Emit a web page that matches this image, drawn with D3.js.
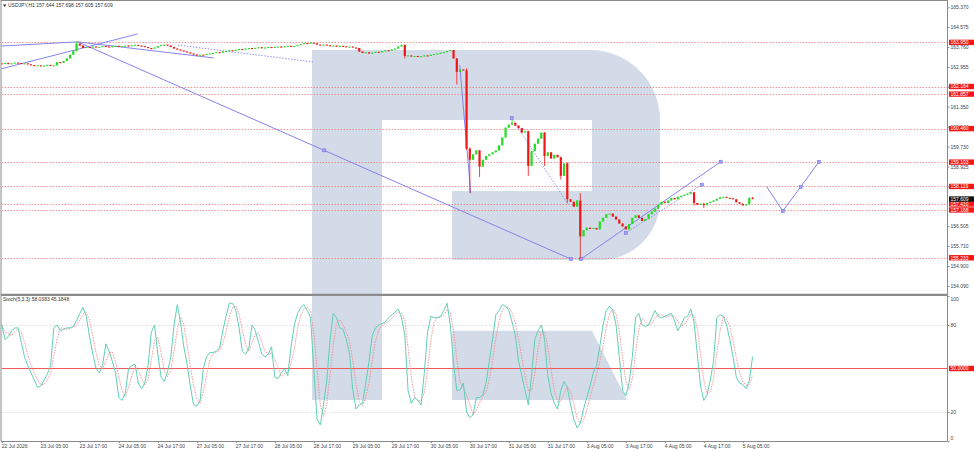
<!DOCTYPE html>
<html>
<head>
<meta charset="utf-8">
<style>
body { margin:0; background:#fff; }
svg { display:block; font-family:"Liberation Sans", Arial, sans-serif; }
</style>
<script src="https://cdn.jsdelivr.net/npm/d3@7"></script>
</head>
<body>
<div id="chart"></div>
<script>
var W = 974, H = 451;

// ---- data (USDJPY H1, 22 Jul 17:00 .. 5 Aug 07:00) ----
var symbol = "USDJPY,H1";
var lastOHLC = ["157.644", "157.698", "157.605", "157.609"];
var open0 = 163.10;
var closes = [
  163.08,163.12,163.07,163.10,163.13,163.11,163.08,163.10,163.06,163.03,
  163.00,163.02,162.98,163.01,163.04,163.00,163.02,163.15,163.12,163.20,
  163.30,163.45,163.60,163.90,163.82,163.72,163.76,163.74,163.78,163.75,
  163.77,163.80,163.78,163.76,163.79,163.81,163.78,163.80,163.82,163.79,
  163.83,163.85,163.82,163.80,163.76,163.72,163.70,163.74,163.80,163.84,
  163.86,163.82,163.76,163.70,163.66,163.62,163.58,163.54,163.50,163.46,
  163.42,163.45,163.44,163.48,163.50,163.52,163.55,163.53,163.58,163.60,
  163.63,163.61,163.65,163.68,163.66,163.70,163.72,163.69,163.73,163.75,
  163.72,163.74,163.76,163.73,163.77,163.78,163.75,163.79,163.81,163.78,
  163.80,163.84,163.88,163.92,163.90,163.94,163.91,163.86,163.84,163.86,
  163.83,163.80,163.82,163.78,163.81,163.79,163.76,163.78,163.74,163.72,
  163.58,163.52,163.55,163.50,163.53,163.57,163.55,163.60,163.63,163.61,
  163.66,163.70,163.78,163.85,163.40,163.42,163.38,163.40,163.36,163.39,
  163.42,163.40,163.45,163.48,163.50,163.53,163.56,163.60,163.64,163.30,
  162.76,162.85,162.82,159.65,159.20,159.42,159.58,158.92,159.20,159.35,
  159.42,159.50,159.58,159.78,160.10,160.50,160.62,160.70,160.58,160.48,
  160.30,160.35,158.95,159.55,159.85,160.05,160.30,159.35,159.50,159.25,
  159.40,159.30,158.55,159.05,157.60,157.50,157.30,157.55,156.10,156.35,
  156.45,156.40,156.44,156.38,156.70,156.85,157.00,157.02,156.90,156.78,
  156.62,156.50,156.38,156.60,156.85,156.95,156.85,156.72,156.80,157.00,
  157.10,157.22,157.38,157.50,157.45,157.55,157.65,157.60,157.70,157.74,
  157.78,157.82,157.88,157.45,157.38,157.42,157.36,157.45,157.50,157.55,
  157.62,157.68,157.70,157.66,157.64,157.60,157.48,157.42,157.35,157.40,
  157.644,157.609
];
// bars with visible wicks: index -> [high, low]
var wicks = {
  23:[163.98,163.58], 124:[163.86,163.30], 140:[163.32,162.25], 143:[162.90,159.60],
  144:[159.70,157.85], 147:[159.60,158.50], 157:[160.82,160.60], 162:[160.38,158.55],
  167:[160.32,158.95], 172:[159.32,158.40], 174:[159.10,157.45], 178:[157.85,155.20],
  213:[157.90,157.35], 216:[157.44,157.25], 230:[157.698,157.38], 231:[157.698,157.605]
};

// Stochastic %K per bar
var stochK = [
  80,70,72,76,78,78,68,58,52,47, 42,37,38,42,46,52,78,80,76,77,
  78,78,79,83,88,92,86,72,60,50, 47,52,67,62,55,47,30,28,33,50,
  52,53,40,36,40,52,75,80,60,44, 41,48,58,80,94,82,65,53,38,25,
  24,28,50,58,61,61,62,64,76,86, 95,95,90,78,62,60,64,80,76,68,
  60,58,60,65,44,43,47,50,45,65, 80,88,92,94,90,85,49,15,11,25,
  42,70,88,85,78,77,70,60,35,22, 25,26,40,55,73,78,80,81,82,85,
  87,89,91,85,73,35,26,30,28,25, 47,75,86,85,85,86,90,95,80,53,
  35,35,40,20,16,18,30,30,32,40, 55,70,87,90,94,93,90,82,73,55,
  45,35,25,45,70,76,80,70,45,33, 26,22,35,41,37,25,15,9,12,22,
  30,38,47,52,65,80,90,93,90,80, 58,35,31,40,58,85,88,80,79,80,
  85,90,86,85,86,87,88,83,76,80, 85,86,91,82,60,38,28,32,42,55,
  85,87,86,80,70,58,44,40,39,36, 41.5,58.04
];
var stochLabel = "Stoch(5,3,3) 58.0383 45.1848";

// horizontal levels and axis labels
var levels = [163.950, 162.164, 161.857, 160.460, 159.103, 158.119, 157.410, 157.168, 155.233];
var currentPrice = 157.609;
var priceTicks = [165.370, 164.575, 163.760, 162.955, 162.150, 161.350, 160.540, 159.730,
                  158.925, 158.120, 156.505, 155.710, 154.900, 154.090];
var stochTicks = [100, 80, 20, 0];
var stochLevels = [80, 20];
var timeTicks = [0,12,24,36,48,60,72,84,96,108,120,132,144,156,168,180,192,204,216,228];
var timeLabels = ["22 Jul 2026","23 Jul 05:00","23 Jul 17:00","24 Jul 05:00","24 Jul 17:00",
  "27 Jul 05:00","27 Jul 17:00","28 Jul 05:00","28 Jul 17:00","29 Jul 05:00","29 Jul 17:00",
  "30 Jul 05:00","30 Jul 17:00","31 Jul 05:00","31 Jul 17:00","3 Aug 05:00","3 Aug 17:00",
  "4 Aug 05:00","4 Aug 17:00","5 Aug 05:00"];

// analyst drawings: [bar index, price]
var trendSolid = [
  [[-0.5,163.80],[23.4,163.97]],
  [[-0.5,162.87],[41.8,164.29]],
  [[23.4,163.97],[175.1,155.18]],
  [[23.4,163.97],[65.2,163.32]],
  [[140.9,163.03],[144.3,157.85]],
  [[178.2,155.18],[221.2,159.12]]
];
var trendDotted = [
  [[54.2,163.84],[95.7,163.16]],
  [[156.9,160.89],[174.2,157.40]],
  [[192.0,156.24],[215.4,158.19]]
];
var forecast = [[235.4,158.10],[240.3,157.13],[245.8,158.10],[251.4,159.11]];
var markers = [[99.2,159.58],[175.1,155.18],[178.2,155.18],[221.2,159.12],[192.0,156.24],
               [215.4,158.19],[156.9,160.89],[240.3,157.13],[245.8,158.10],[251.4,159.11]];

// ---- layout ----
var axisX = 947.5, mainTop = 1, mainBot = 293.5, stTop = 296, stBot = 441;

var svg = d3.select("#chart").append("svg").attr("width", W).attr("height", H);
svg.append("rect").attr("width", W).attr("height", H).attr("fill", "#fff");

var x = d3.scaleLinear().domain([0, 231]).range([1.8, 1.8 + 231 * 3.25]);
var y = d3.scaleLinear().domain([154.09, 165.37]).range([286, 7.3]);
var ys = d3.scaleLinear().domain([0, 100]).range([stBot, stTop]);

var defs = svg.append("defs");
defs.append("clipPath").attr("id", "cm").append("rect")
  .attr("x", 1.5).attr("y", mainTop).attr("width", axisX - 1.5).attr("height", mainBot - mainTop);
defs.append("clipPath").attr("id", "cs").append("rect")
  .attr("x", 1.5).attr("y", stTop).attr("width", axisX - 1.5).attr("height", stBot - stTop);

// watermark logo
svg.append("path")
  .attr("d", "M312,50 H590 A70,70 0 0 1 660,120 V200 A60,60 0 0 1 600,260 H452 V191 H592 V120 H382 V400 H312 Z")
  .attr("fill", "#d2dbe7");
svg.append("path")
  .attr("d", "M452,330.7 H592 L627,400 H452 Z")
  .attr("fill", "#d2dbe7");

var main = svg.append("g").attr("clip-path", "url(#cm)");
var st = svg.append("g").attr("clip-path", "url(#cs)");

// price levels
main.selectAll(".lvl").data(levels).enter().append("line")
  .attr("x1", 1.5).attr("x2", axisX)
  .attr("y1", function(d){ return Math.round(y(d)) + 0.5; })
  .attr("y2", function(d){ return Math.round(y(d)) + 0.5; })
  .attr("stroke", "#f07a7a").attr("stroke-width", 0.8).attr("stroke-dasharray", "1.5,1.5");

// stoch levels
st.selectAll(".sl").data(stochLevels).enter().append("line")
  .attr("x1", 1.5).attr("x2", axisX)
  .attr("y1", function(d){ return Math.round(ys(d)) + 0.5; })
  .attr("y2", function(d){ return Math.round(ys(d)) + 0.5; })
  .attr("stroke", "#d6d6d6").attr("stroke-width", 0.8).attr("stroke-dasharray", "2,2");
st.append("line").attr("x1", 1.5).attr("x2", axisX)
  .attr("y1", ys(50)).attr("y2", ys(50))
  .attr("stroke", "#f05a5a").attr("stroke-width", 1);

// drawings
var pline = d3.line().x(function(p){ return x(p[0]); }).y(function(p){ return y(p[1]); });
main.selectAll(".ts").data(trendSolid).enter().append("path")
  .attr("d", pline).attr("fill", "none").attr("stroke", "#8484ee").attr("stroke-width", 1);
main.selectAll(".td").data(trendDotted).enter().append("path")
  .attr("d", pline).attr("fill", "none").attr("stroke", "#8484ee").attr("stroke-width", 0.9)
  .attr("stroke-dasharray", "1.5,1.5");
main.append("path").datum(forecast).attr("d", pline)
  .attr("fill", "none").attr("stroke", "#8484ee").attr("stroke-width", 1);
main.selectAll(".mk").data(markers).enter().append("rect")
  .attr("x", function(p){ return x(p[0]) - 1.5; })
  .attr("y", function(p){ return y(p[1]) - 1.5; })
  .attr("width", 3).attr("height", 3)
  .attr("fill", "#a0a0f4").attr("stroke", "#7878e8").attr("stroke-width", 0.6);

// candles
var bars = closes.map(function(c, i){
  var o = i === 0 ? open0 : closes[i - 1];
  var w = wicks[i];
  return { i: i, o: o, c: c,
           h: w ? w[0] : Math.max(o, c),
           l: w ? w[1] : Math.min(o, c) };
});
var up = "#22dd22", dn = "#f01616";
var cg = main.selectAll(".cd").data(bars).enter().append("g");
cg.append("line")
  .attr("x1", function(d){ return x(d.i); }).attr("x2", function(d){ return x(d.i); })
  .attr("y1", function(d){ return y(d.h); }).attr("y2", function(d){ return y(d.l); })
  .attr("stroke", function(d){ return d.c >= d.o ? up : dn; }).attr("stroke-width", 0.8);
cg.append("rect")
  .attr("x", function(d){ return x(d.i) - 1.1; })
  .attr("width", 2.2)
  .attr("y", function(d){ return y(Math.max(d.o, d.c)); })
  .attr("height", function(d){ return Math.max(1, Math.abs(y(d.o) - y(d.c))); })
  .attr("fill", function(d){ return d.c >= d.o ? up : dn; });

// stochastic: %K and %D (%D = 3-bar average of %K, as in Stoch 5,3,3)
var stochD = stochK.map(function(k, i){
  var s = stochK.slice(Math.max(0, i - 2), i + 1);
  return d3.mean(s);
});
var sline = d3.line().x(function(d, i){ return x(i); }).y(function(d){ return ys(d); });
st.append("path").datum(stochD).attr("d", sline)
  .attr("fill", "none").attr("stroke", "#f28a8a").attr("stroke-width", 0.9)
  .attr("stroke-dasharray", "1.5,1.2");
st.append("path").datum(stochK).attr("d", sline)
  .attr("fill", "none").attr("stroke", "#5fcfb6").attr("stroke-width", 1);

// frame
var frame = svg.append("g").attr("stroke", "#8a8a8a").attr("fill", "none");
frame.append("line").attr("x1", 1).attr("x2", 1).attr("y1", 0).attr("y2", stBot);
frame.append("line").attr("x1", 1).attr("x2", axisX).attr("y1", 0.5).attr("y2", 0.5);
frame.append("line").attr("x1", axisX).attr("x2", axisX).attr("y1", 0).attr("y2", stBot);
frame.append("line").attr("x1", 1).attr("x2", axisX).attr("y1", stBot + 0.5).attr("y2", stBot + 0.5);
frame.append("line").attr("x1", 1).attr("x2", axisX).attr("y1", 294.8).attr("y2", 294.8)
  .attr("stroke-width", 2.2).attr("stroke", "#8c8c8c");

// price axis
var pAxis = svg.append("g").attr("transform", "translate(" + axisX + ",0)")
  .call(d3.axisRight(y).tickValues(priceTicks).tickFormat(d3.format(".3f"))
        .tickSize(2).tickSizeOuter(0).tickPadding(1));
pAxis.select(".domain").remove();
pAxis.selectAll("line").attr("stroke", "#888");
pAxis.selectAll("text").attr("font-size", 5).attr("fill", "#444").attr("font-family", "Liberation Sans, Arial, sans-serif");

// stoch axis
var sAxis = svg.append("g").attr("transform", "translate(" + axisX + ",0)")
  .call(d3.axisRight(ys).tickValues(stochTicks).tickSize(2).tickSizeOuter(0).tickPadding(1));
sAxis.select(".domain").remove();
sAxis.selectAll("line").attr("stroke", "#888");
sAxis.selectAll("text").attr("font-size", 5).attr("fill", "#444").attr("font-family", "Liberation Sans, Arial, sans-serif")
  .attr("y", function(d){ return d === 100 ? 3 : (d === 0 ? -3.3 : 0); });

// time axis
var tAxis = svg.append("g").attr("transform", "translate(0," + stBot + ")")
  .call(d3.axisBottom(x).tickValues(timeTicks)
        .tickFormat(function(d, i){ return timeLabels[i]; })
        .tickSize(2).tickSizeOuter(0));
tAxis.select(".domain").remove();
tAxis.selectAll("line").attr("stroke", "#888");
tAxis.selectAll("text").attr("font-size", 5).attr("fill", "#444")
  .attr("font-family", "Liberation Sans, Arial, sans-serif")
  .attr("text-anchor", "start").attr("x", -0.5).attr("y", 6.6).attr("dy", 0);

// level labels
function tag(g, val, txt, bg){
  var cy = y(val);
  g.append("rect").attr("x", axisX + 1.5).attr("y", cy - 2.7).attr("width", 25).attr("height", 5.4).attr("fill", bg);
  g.append("text").attr("x", axisX + 3).attr("y", cy + 1.8).attr("font-size", 5)
    .attr("fill", "#fff").text(txt);
}
var tags = svg.append("g");
levels.forEach(function(v){ tag(tags, v, d3.format(".3f")(v), "#f01818"); });
tag(tags, currentPrice, d3.format(".3f")(currentPrice), "#111");
tags.append("rect").attr("x", axisX + 1.5).attr("y", ys(50) - 2.7).attr("width", 25).attr("height", 5.4).attr("fill", "#f01818");
tags.append("text").attr("x", axisX + 3).attr("y", ys(50) + 1.8).attr("font-size", 5).attr("fill", "#fff").text("50.0000");

// titles
svg.append("path").attr("d", "M3,4.5 L6.5,4.5 L4.75,7 Z").attr("fill", "#333");
svg.append("text").attr("x", 8).attr("y", 7).attr("font-size", 5).attr("fill", "#333")
  .text(symbol + " " + lastOHLC.join(" "));
svg.append("text").attr("x", 3).attr("y", 301.3).attr("font-size", 5).attr("fill", "#333")
  .text(stochLabel);
</script>
</body>
</html>
